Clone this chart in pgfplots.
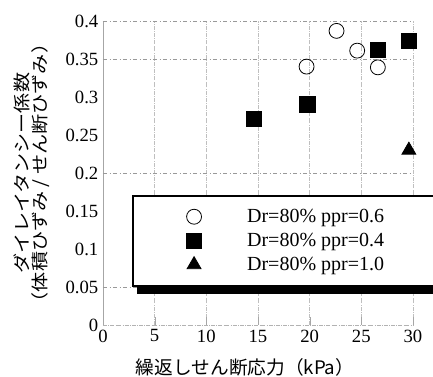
\documentclass[border=0pt]{standalone}
\usepackage{fontspec}
\setmainfont{Liberation Serif}
\newfontfamily\cjk{Noto Sans CJK JP}
\usepackage{graphicx}
\usepackage{pgfplots}
\pgfplotsset{compat=1.18}
\usetikzlibrary{shadows}
\begin{document}
\begin{tikzpicture}
\path[use as bounding box] (0,0) rectangle (324.75pt,282.75pt);
\begin{axis}[
  at={(77.25pt,39pt)}, anchor=south west,
  scale only axis, width=232.5pt, height=228pt,
  xmin=0, xmax=30, ymin=0, ymax=0.4,
  axis x line=bottom, axis y line=left,
  x axis line style={-, gray!60, densely dashdotted},
  y axis line style={-, gray!70},
  xtick={0,5,10,15,20,25,30},
  ytick={0,0.05,0.1,0.15,0.2,0.25,0.3,0.35,0.4},
  yticklabels={0,0.05,0.1,0.15,0.2,0.25,0.3,0.35,0.4},
  xticklabels={0,5,10,15,20,25,30},
  tick align=inside, major tick length=6pt,
  ytick style={draw=none},
  xtick style={gray!70},
  xmajorgrids,
  major grid style={gray!50, densely dashdotted, line width=0.5pt},
  extra y ticks={0.05,0.2,0.35,0.4},
  extra y tick labels={},
  extra y tick style={grid=major, major grid style={gray!80, dashdotted, line width=0.6pt}},
  tick label style={font=\fontsize{14}{14}\selectfont},
  /pgf/number format/assume math mode=true,
  xlabel={\cjk 繰返しせん断応力（kPa）},
  xlabel style={font=\fontsize{14}{14}\selectfont, at={(rel axis cs:0.458,-0.14)}, anchor=center},
  ylabel={\scalebox{1.16}[1]{ダイレイタンシー係数}\\\scalebox{1.16}[1]{（体積ひずみ / せん断ひずみ）}},
  ylabel style={font=\cjk\fontsize{13}{13.5}\selectfont, align=center, at={(rel axis cs:-0.229,0.5)}, anchor=center, rotate=0},
  legend style={at={(rel axis cs:0.094,0.428)}, anchor=north west,
    draw=black, line width=1.3pt, fill=white,
    drop shadow={shadow xshift=3pt, shadow yshift=-6pt, fill=black, opacity=1},
    inner xsep=40pt, inner ysep=8pt,
    font=\fontsize{15}{15}\selectfont,
    row sep=2.5pt,
    /tikz/every odd column/.append style={column sep=32pt}},
  legend cell align=left,
]
\addplot[only marks, mark=o, mark size=5.6pt, line width=0.6pt, mark options={draw=black, fill=white, line width=0.6pt}]
  coordinates {(19.7,0.340) (22.6,0.387) (24.6,0.361) (26.6,0.339)};
\addlegendentry{Dr=80\% ppr=0.6}
\addplot[only marks, mark=square*, mark size=5.8pt, line width=0.6pt, mark options={draw=black, fill=black, line width=0.6pt}]
  coordinates {(14.6,0.271) (19.8,0.290) (26.6,0.362) (29.6,0.374)};
\addlegendentry{Dr=80\% ppr=0.4}
\addplot[only marks, mark=triangle*, mark size=6pt, line width=0.6pt, mark options={draw=black, fill=black, line width=0.6pt}]
  coordinates {(29.6,0.230)};
\addlegendentry{Dr=80\% ppr=1.0}
\end{axis}
\end{tikzpicture}
\end{document}
